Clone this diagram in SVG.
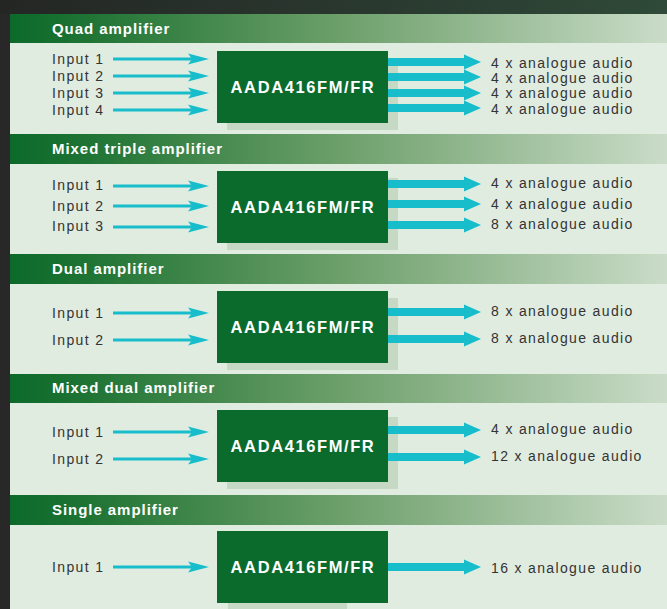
<svg xmlns="http://www.w3.org/2000/svg" width="667" height="609" viewBox="0 0 667 609">
<defs>
<linearGradient id="hg" x1="0" y1="0" x2="1" y2="0">
<stop offset="0" stop-color="#0b6a2a"/>
<stop offset="0.12" stop-color="#1f7434"/>
<stop offset="0.5" stop-color="#6c9f6a"/>
<stop offset="1" stop-color="#cadcc8"/>
</linearGradient>
<linearGradient id="bgt" x1="0" y1="0" x2="1" y2="0">
<stop offset="0" stop-color="#242624"/>
<stop offset="0.6" stop-color="#2a3a30"/>
<stop offset="1" stop-color="#2f4a38"/>
</linearGradient>
<style>
.hdr{fill:url(#hg)}
.body{fill:#e1ece1}
.box{fill:#0b6b2c}
.sh{fill:#c6d9c4}
.ht{font-family:"Liberation Sans",Arial,sans-serif;font-weight:bold;font-size:15px;fill:#fff;letter-spacing:0.95px}
.bt{font-family:"Liberation Sans",Arial,sans-serif;font-weight:bold;font-size:16.5px;fill:#fff;letter-spacing:1.6px;text-anchor:middle}
.lt{font-family:"Liberation Sans",Arial,sans-serif;font-size:14px;fill:#333;letter-spacing:1.35px}
.in{stroke:#17bdcb;stroke-width:3;fill:none}
.ah{fill:#17bdcb}
</style>
</defs>
<rect x="0" y="0" width="667" height="609" fill="#272827"/>
<rect x="0" y="0" width="667" height="14" fill="url(#bgt)"/>

<g id="section-quad">
<rect class="hdr" x="10" y="14" width="657" height="29"/>
<rect class="body" x="10" y="43" width="657" height="91"/>
<text class="ht" x="52" y="34">Quad amplifier</text>
</g>
<g id="section-mixed-triple">
<rect class="hdr" x="10" y="134" width="657" height="30"/>
<rect class="body" x="10" y="164" width="657" height="90"/>
<text class="ht" x="52" y="154">Mixed triple amplifier</text>
</g>
<g id="section-dual">
<rect class="hdr" x="10" y="254" width="657" height="30"/>
<rect class="body" x="10" y="284" width="657" height="90"/>
<text class="ht" x="52" y="274">Dual amplifier</text>
</g>
<g id="section-mixed-dual">
<rect class="hdr" x="10" y="374" width="657" height="29"/>
<rect class="body" x="10" y="403" width="657" height="92"/>
<text class="ht" x="52" y="393">Mixed dual amplifier</text>
</g>
<g id="section-single">
<rect class="hdr" x="10" y="495" width="657" height="30"/>
<rect class="body" x="10" y="525" width="657" height="84"/>
<text class="ht" x="52" y="515">Single amplifier</text>
</g>

<g id="node-quad">
<rect class="sh" x="227" y="58" width="171" height="72"/>
<rect class="box" x="217" y="51" width="171" height="72"/>
<text class="bt" x="303" y="93">AADA416FM/FR</text>
</g>
<g id="node-mixed-triple">
<rect class="sh" x="227" y="178" width="171" height="72"/>
<rect class="box" x="217" y="171" width="171" height="72"/>
<text class="bt" x="303" y="213">AADA416FM/FR</text>
</g>
<g id="node-dual">
<rect class="sh" x="227" y="298" width="171" height="72"/>
<rect class="box" x="217" y="291" width="171" height="72"/>
<text class="bt" x="303" y="333">AADA416FM/FR</text>
</g>
<g id="node-mixed-dual">
<rect class="sh" x="227" y="417" width="171" height="72"/>
<rect class="box" x="217" y="410" width="171" height="72"/>
<text class="bt" x="303" y="452">AADA416FM/FR</text>
</g>
<g id="node-single">
<rect class="sh" x="228" y="600" width="119" height="9"/>
<rect class="box" x="217" y="531" width="171" height="72"/>
<text class="bt" x="303" y="573">AADA416FM/FR</text>
</g>

<g id="labels">
<text class="lt" x="52" y="64">Input 1</text>
<text class="lt" x="52" y="81">Input 2</text>
<text class="lt" x="52" y="98">Input 3</text>
<text class="lt" x="52" y="115">Input 4</text>
<text class="lt" x="491" y="68">4 x analogue audio</text>
<text class="lt" x="491" y="83">4 x analogue audio</text>
<text class="lt" x="491" y="98">4 x analogue audio</text>
<text class="lt" x="491" y="114">4 x analogue audio</text>

<text class="lt" x="52" y="190">Input 1</text>
<text class="lt" x="52" y="211">Input 2</text>
<text class="lt" x="52" y="231">Input 3</text>
<text class="lt" x="491" y="188">4 x analogue audio</text>
<text class="lt" x="491" y="209">4 x analogue audio</text>
<text class="lt" x="491" y="229">8 x analogue audio</text>

<text class="lt" x="52" y="318">Input 1</text>
<text class="lt" x="52" y="345">Input 2</text>
<text class="lt" x="491" y="316">8 x analogue audio</text>
<text class="lt" x="491" y="343">8 x analogue audio</text>

<text class="lt" x="52" y="437">Input 1</text>
<text class="lt" x="52" y="464">Input 2</text>
<text class="lt" x="491" y="434">4 x analogue audio</text>
<text class="lt" x="491" y="461">12 x analogue audio</text>

<text class="lt" x="52" y="572">Input 1</text>
<text class="lt" x="491" y="573">16 x analogue audio</text>
</g>

<g id="connectors">
<g>
<path class="in" d="M113 59H192M113 76H192M113 93H192M113 110H192"/>
<path class="ah" d="M188 53.5L209 59L188 64.5L192 59ZM188 70.5L209 76L188 81.5L192 76ZM188 87.5L209 93L188 98.5L192 93ZM188 104.5L209 110L188 115.5L192 110Z"/>
<path class="in" d="M113 186H192M113 206H192M113 227H192"/>
<path class="ah" d="M188 180.5L209 186L188 191.5L192 186ZM188 200.5L209 206L188 211.5L192 206ZM188 221.5L209 227L188 232.5L192 227Z"/>
<path class="in" d="M113 313H192M113 340H192"/>
<path class="ah" d="M188 307.5L209 313L188 318.5L192 313ZM188 334.5L209 340L188 345.5L192 340Z"/>
<path class="in" d="M113 432H192M113 459H192"/>
<path class="ah" d="M188 426.5L209 432L188 437.5L192 432ZM188 453.5L209 459L188 464.5L192 459Z"/>
<path class="in" d="M113 567H192"/>
<path class="ah" d="M188 561.5L209 567L188 572.5L192 567Z"/>
</g>
<g class="ah">
<path d="M388 58H464V54.5L481 62L464 69.5V66H388Z"/>
<path d="M388 73H464V69.5L481 77L464 84.5V81H388Z"/>
<path d="M388 89H464V85.5L481 93L464 100.5V97H388Z"/>
<path d="M388 104H464V100.5L481 108L464 115.5V112H388Z"/>

<path d="M388 180H464V176.5L481 184L464 191.5V188H388Z"/>
<path d="M388 200H464V196.5L481 204L464 211.5V208H388Z"/>
<path d="M388 221H464V217.5L481 225L464 232.5V229H388Z"/>

<path d="M388 308H464V304.5L481 312L464 319.5V316H388Z"/>
<path d="M388 335H464V331.5L481 339L464 346.5V343H388Z"/>

<path d="M388 426H464V422.5L481 430L464 437.5V434H388Z"/>
<path d="M388 453H464V449.5L481 457L464 464.5V461H388Z"/>

<path d="M388 563H464V559.5L481 567L464 574.5V571H388Z"/>
</g>
</g>
</svg>
